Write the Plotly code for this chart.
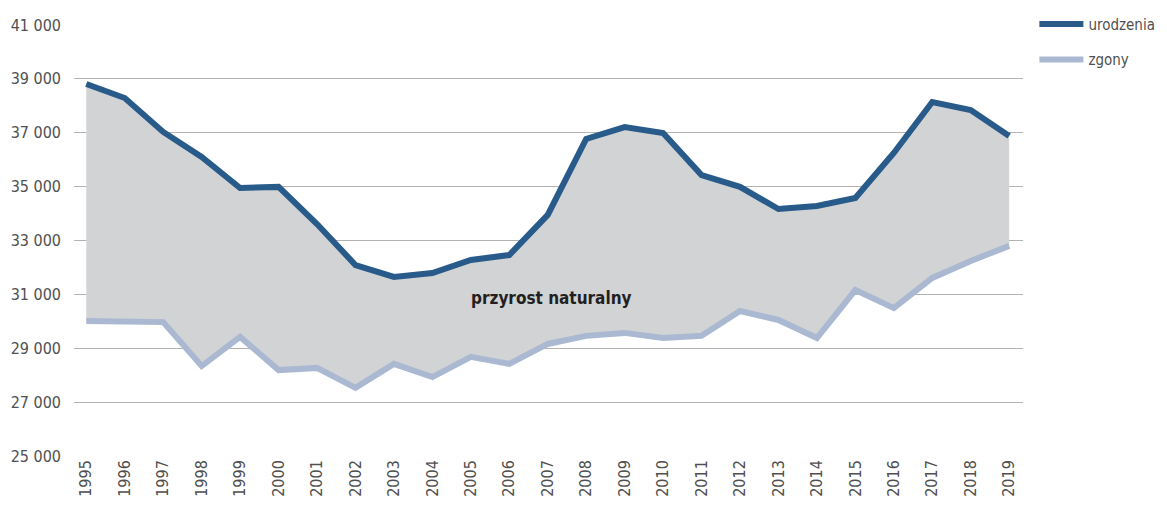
import plotly.graph_objects as go

lata = list(range(1995, 2020))
urodzenia = [38810, 38290, 37030, 36100, 34950, 34990, 33610, 32090, 31650, 31790,
             32280, 32460, 33950, 36770, 37210, 36990, 35430, 34990, 34170, 34280,
             34580, 36250, 38140, 37840, 36880]
zgony = [30010, 30010, 29970, 28340, 29420, 28190, 28270, 27530, 28420, 27930,
         28680, 28420, 29160, 29460, 29570, 29380, 29460, 30380, 30050, 29380,
         31160, 30490, 31610, 32240, 32800]
y_ticks = [25000, 27000, 29000, 31000, 33000, 35000, 37000, 39000, 41000]
y_labels = [f"{v // 1000} 000" for v in y_ticks]

font = "DejaVu Sans Condensed, Liberation Sans Narrow, sans-serif"

fig = go.Figure()
# pole miedzy liniami (przyrost naturalny)
fig.add_trace(go.Scatter(x=lata, y=zgony, mode='lines', line=dict(width=0),
                         showlegend=False, hoverinfo='skip'))
fig.add_trace(go.Scatter(x=lata, y=urodzenia, mode='lines', line=dict(width=0),
                         fill='tonexty', fillcolor='#d1d3d5',
                         showlegend=False, hoverinfo='skip'))
fig.add_trace(go.Scatter(x=lata, y=urodzenia, mode='lines', name='urodzenia',
                         legendgroup='u', line=dict(color='#285a8a', width=6)))
fig.add_trace(go.Scatter(x=lata, y=zgony, mode='lines', name='zgony',
                         legendgroup='z', line=dict(color='#aab9d1', width=6)))

fig.add_annotation(x=2007.1, y=30870, text='<b>przyrost naturalny</b>', showarrow=False,
                   font=dict(family=font, size=17, color='#231f20'))

# strona ma 8 px marginesu body, stad przesuniete marginesy
fig.update_layout(
    width=1167, height=509,
    margin=dict(l=66, r=152, t=17, b=61, autoexpand=False),
    plot_bgcolor='white', paper_bgcolor='white',
    font=dict(family=font, size=16, color='#505050'),
    showlegend=True,
    legend=dict(x=1.012, y=1.04, xanchor='left', yanchor='top',
                traceorder='grouped', font=dict(family=font, size=15, color='#505050'),
                itemwidth=44, tracegroupgap=13),
    xaxis=dict(range=[1994.68, 2019.36], tickvals=lata, ticktext=[str(r) for r in lata],
               tickangle=-90, showgrid=False, zeroline=False, showline=False, ticks='',
               automargin=False, tickfont=dict(size=16)),
    yaxis=dict(range=[25000, 41000], tickvals=y_ticks, ticktext=y_labels,
               showgrid=True, gridcolor='#b3b3b3', gridwidth=1.3, zeroline=False,
               showline=False, ticks='', ticklabelstandoff=12, automargin=False,
               tickfont=dict(size=16)),
)

fig.write_html("out.html")
